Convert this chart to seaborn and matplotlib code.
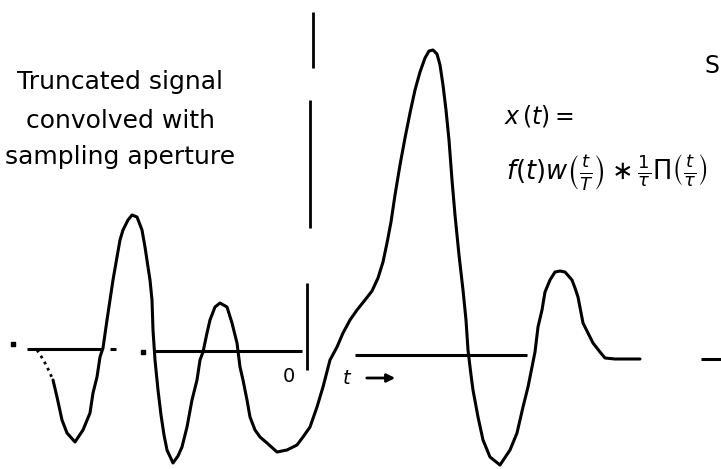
import numpy as np
import pandas as pd
import seaborn as sns
import matplotlib.pyplot as plt

# traced waveform, (position, height) in picture units: y grows downwards
curve_x = [53, 57, 62, 67, 75, 83, 90, 93, 97, 100, 103, 107, 110, 113, 117, 120, 123, 128,
           132, 137, 142, 145, 148, 150, 152, 153, 155, 158, 161, 164, 167, 173, 178, 182,
           187, 192, 197, 200, 203, 207, 210, 215, 220, 227, 232, 237, 240, 243, 247, 250,
           255, 260, 267, 277, 287, 297, 303, 310, 317, 323, 330, 337, 343, 350, 357, 365,
           372, 378, 383, 387, 391, 395, 400, 405, 410, 415, 420, 425, 429, 433, 437, 440,
           443, 446, 449, 452, 455, 459, 463, 466, 468, 471, 473, 478, 483, 490, 500, 510,
           517, 523, 528, 532, 535, 538, 542, 545, 550, 555, 560, 565, 572, 575, 578, 583,
           588, 593, 600, 605, 615, 640]
curve_y = [380, 397, 420, 433, 442, 430, 413, 393, 377, 357, 348, 320, 300, 280, 257, 240,
           230, 220, 215, 217, 230, 247, 267, 280, 300, 330, 360, 390, 415, 435, 450, 463,
           456, 447, 427, 400, 380, 360, 352, 333, 320, 307, 303, 307, 323, 343, 367, 380,
           400, 417, 430, 437, 443, 452, 450, 445, 437, 427, 407, 387, 360, 347, 333, 320,
           310, 300, 291, 278, 262, 243, 222, 195, 165, 138, 113, 90, 72, 58, 51, 50,
           54, 65, 85, 110, 140, 180, 215, 255, 290, 320, 350, 375, 390, 417, 440, 457,
           465, 450, 433, 407, 387, 367, 352, 327, 310, 292, 280, 272, 271, 272, 280, 288,
           297, 323, 333, 343, 352, 358, 359, 359]
# faint dotted start of the waveform
dot_x = [37, 41, 45, 49, 53]
dot_y = [350, 356, 363, 371, 380]
# stray specks left by the scan
speck_x = [13, 143]
speck_y = [344, 352]

# broken baseline pieces: (start, end, level)
base_x0 = [27, 110, 153, 355, 701]
base_x1 = [102, 116, 302, 527, 721]
base_y = [349, 349, 351, 355, 359]
# broken vertical axis pieces: (position, top, bottom)
vert_x = [313, 310, 307]
vert_top = [12, 100, 283]
vert_bot = [68, 228, 370]

caption = ["Truncated signal", "convolved with", "sampling aperture"]
caption_y = [82, 121, 157]
eq_lhs = r"$x\,(t) =$"
eq_rhs = r"$f(t)w\left(\frac{t}{T}\right)\ast\frac{1}{\tau}\Pi\left(\frac{t}{\tau}\right)$"

sns.set_style("white")
fig = plt.figure(figsize=(7.21, 4.69), dpi=100)
ax = fig.add_axes([0, 0, 1, 1])

df = pd.DataFrame({"x": curve_x, "y": curve_y})
sns.lineplot(data=df, x="x", y="y", sort=False, color="black", lw=2.2, ax=ax)
ax.plot(dot_x, dot_y, color="black", lw=2.0, ls=(0, (1, 1.5)))
ax.scatter(speck_x, speck_y, color="black", s=6, marker="s")

ax.hlines(base_y, base_x0, base_x1, color="black", lw=2.2)
ax.vlines(vert_x, vert_top, vert_bot, color="black", lw=2.0)

for line, yy in zip(caption, caption_y):
    ax.text(120, yy, line, ha="center", va="center", fontsize=18, color="black")

ax.text(504, 116, eq_lhs, ha="left", va="center", fontsize=17, color="black")
ax.text(506, 173, eq_rhs, ha="left", va="center", fontsize=18.5, color="black")
ax.text(705, 66, "S", ha="left", va="center", fontsize=17, color="black")

ax.text(289, 376, "0", ha="center", va="center", fontsize=14, color="black")
ax.text(347, 378, r"$t$", ha="center", va="center", fontsize=14, color="black")
ax.annotate("", xy=(398, 378), xytext=(364, 378),
            arrowprops=dict(arrowstyle="-|>", color="black", lw=2, mutation_scale=12))

ax.set_xlim(0, 721)
ax.set_ylim(469, 0)
ax.axis("off")

fig.savefig("out.png", dpi=100)
